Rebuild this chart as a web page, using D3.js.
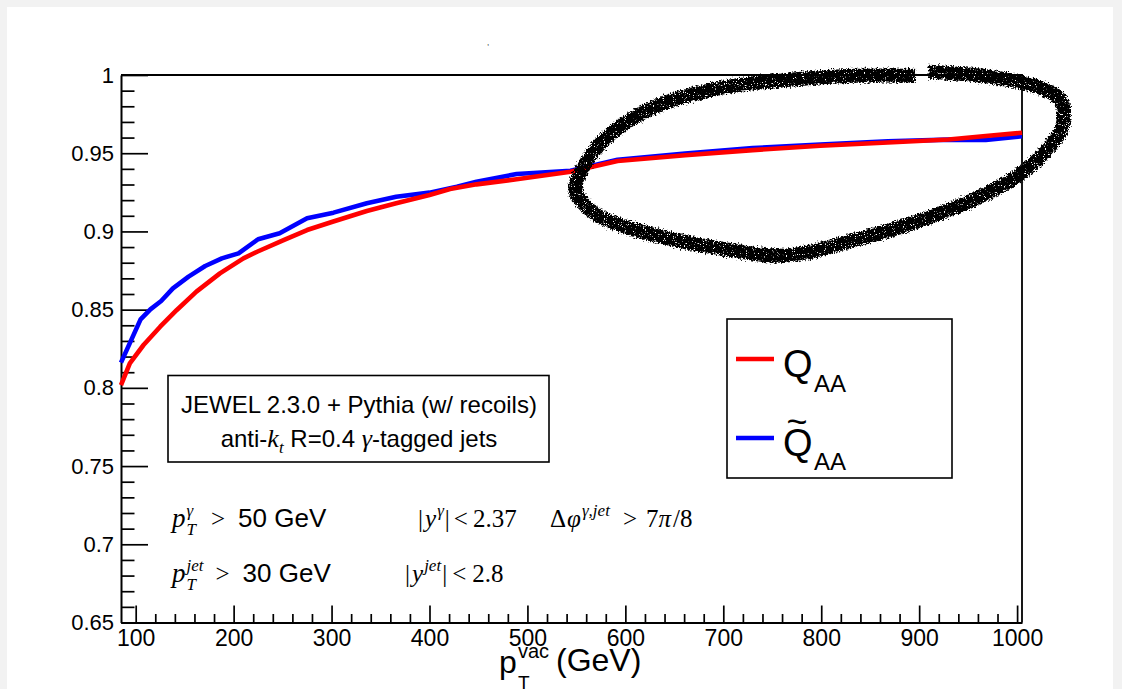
<!DOCTYPE html>
<html>
<head>
<meta charset="utf-8">
<script src="https://cdn.jsdelivr.net/npm/d3@7"></script>
<style>
  body { margin: 0; background: #f2f2f2; }
  svg { display: block; }
  .axis .domain { stroke: #000; stroke-width: 2; }
  .axis .tick line { stroke: #000; stroke-width: 1.7; }
  .axis text { font-family: "Liberation Sans", Arial, sans-serif; fill: #000; }
</style>
</head>
<body>
<svg id="chart" width="1122" height="689"></svg>
<script>
// Q_AA (red) as a function of the vacuum jet pT
var redPt = [85, 94, 108, 125, 142, 162, 186, 210, 224, 251, 275, 301, 336, 366, 400, 421, 448, 489, 544, 592, 661, 730, 799, 868, 930, 968, 1005];
var redQ = [0.8018, 0.8157, 0.8274, 0.8391, 0.8498, 0.8615, 0.8732, 0.8828, 0.8870, 0.8945, 0.9009, 0.9062, 0.9131, 0.9180, 0.9233, 0.9271, 0.9301, 0.9333, 0.9382, 0.9450, 0.9487, 0.9520, 0.9548, 0.9568, 0.9588, 0.9610, 0.9631];

// Q~_AA (blue)
var bluePt = [85, 105, 115, 126, 138, 154, 171, 188, 205, 225, 247, 275, 302, 336, 366, 400, 428, 448, 489, 544, 592, 661, 730, 799, 868, 930, 968, 1005];
var blueQ = [0.8161, 0.8438, 0.8502, 0.8555, 0.8636, 0.8711, 0.8779, 0.8828, 0.8860, 0.8950, 0.8988, 0.9084, 0.9120, 0.9180, 0.9222, 0.9248, 0.9286, 0.9318, 0.9367, 0.9388, 0.9458, 0.9498, 0.9533, 0.9556, 0.9576, 0.9587, 0.9584, 0.9608];

// tick labels
var xTicks = [100, 200, 300, 400, 500, 600, 700, 800, 900, 1000];
var xTickLabels = ["100", "200", "300", "400", "500", "600", "700", "800", "900", "1000"];
var yTicks = [0.65, 0.7, 0.75, 0.8, 0.85, 0.9, 0.95, 1];
var yTickLabels = ["0.65", "0.7", "0.75", "0.8", "0.85", "0.9", "0.95", "1"];

// hand drawn loop around the high pT part (pT, Q)
var loopPt = [909.6, 971.8, 1020.1, 1044.3, 1046.1, 1027.1, 999.4, 954.6, 902.8, 833.8, 764.7, 695.6, 626.6, 574.8, 554.1, 549, 574.8, 626.6, 695.6, 764.7, 833.8, 895.8];
var loopQ = [1.0021, 0.9989, 0.9925, 0.9840, 0.9670, 0.9499, 0.9350, 0.9201, 0.9073, 0.8945, 0.8846, 0.8893, 0.8982, 0.9092, 0.9201, 0.9286, 0.9563, 0.9787, 0.9915, 0.9968, 0.9995, 0.9995];

var SANS = '"Liberation Sans", Arial, Helvetica, sans-serif';
var SERIF = '"Liberation Serif", "Times New Roman", serif';

var svg = d3.select("#chart");

// white pad
svg.append("rect").attr("x", 7).attr("y", 7).attr("width", 1106).attr("height", 682).attr("fill", "#fff");

var x = d3.scaleLinear().domain([85, 1005]).range([121, 1022]);
var y = d3.scaleLinear().domain([0.65, 1]).range([622.5, 75]);

// roughness filter for the marker loop
var defs = svg.append("defs");
var f = defs.append("filter").attr("id", "chalk")
  .attr("x", "-10%").attr("y", "-20%").attr("width", "120%").attr("height", "140%");
f.append("feTurbulence").attr("type", "fractalNoise").attr("baseFrequency", 0.6)
  .attr("numOctaves", 2).attr("seed", 4).attr("result", "noise");
f.append("feDisplacementMap").attr("in", "SourceGraphic").attr("in2", "noise")
  .attr("scale", 7).attr("xChannelSelector", "R").attr("yChannelSelector", "G").attr("result", "disp");
f.append("feTurbulence").attr("type", "fractalNoise").attr("baseFrequency", 0.9)
  .attr("numOctaves", 1).attr("seed", 9).attr("result", "grain");
f.append("feColorMatrix").attr("in", "grain").attr("type", "matrix")
  .attr("values", "0 0 0 0 0  0 0 0 0 0  0 0 0 0 0  0 0 0 -12 8.6").attr("result", "mask");
f.append("feComposite").attr("in", "disp").attr("in2", "mask").attr("operator", "in");

// axes (ticks point inside, ROOT style)
var xMinor = d3.range(100, 1001, 20).filter(function (d) { return d % 100 !== 0; });
var yMinor = d3.range(65, 101).filter(function (d) { return d % 5 !== 0; }).map(function (d) { return d / 100; });

var gx = svg.append("g").attr("class", "axis").attr("transform", "translate(0," + y(0.65) + ")");
gx.call(d3.axisBottom(x).tickValues(xTicks).tickSizeInner(-17).tickSizeOuter(0).tickPadding(7)
  .tickFormat(function (d, i) { return xTickLabels[i]; }));
gx.selectAll("text").style("font-size", "23px");
var gxm = svg.append("g").attr("class", "axis").attr("transform", "translate(0," + y(0.65) + ")");
gxm.call(d3.axisBottom(x).tickValues(xMinor).tickSizeInner(-8.5).tickSizeOuter(0).tickFormat(""));
gxm.select(".domain").remove();

var gy = svg.append("g").attr("class", "axis").attr("transform", "translate(" + x(85) + ",0)");
gy.call(d3.axisLeft(y).tickValues(yTicks).tickSizeInner(-27).tickSizeOuter(0).tickPadding(7)
  .tickFormat(function (d, i) { return yTickLabels[i]; }));
gy.selectAll("text").style("font-size", "22px");
var gym = svg.append("g").attr("class", "axis").attr("transform", "translate(" + x(85) + ",0)");
gym.call(d3.axisLeft(y).tickValues(yMinor).tickSizeInner(-13.5).tickSizeOuter(0).tickFormat(""));
gym.select(".domain").remove();

// frame top + right
svg.append("path")
  .attr("d", "M" + x(85) + "," + y(1) + "H" + x(1005) + "V" + y(0.65))
  .attr("fill", "none").attr("stroke", "#000").attr("stroke-width", 1.8);

// curves
var line = d3.line()
  .x(function (d) { return x(d[0]); })
  .y(function (d) { return y(d[1]); });

function series(pts, vals, color) {
  svg.append("path")
    .datum(pts.map(function (p, i) { return [p, vals[i]]; }))
    .attr("d", line)
    .attr("fill", "none").attr("stroke", color).attr("stroke-width", 4.6)
    .attr("stroke-linejoin", "round");
}
series(bluePt, blueQ, "#0000ff");
series(redPt, redQ, "#ff0000");

// plain text helper
function txt(px, py, s, size, family, italic) {
  return svg.append("text").attr("x", px).attr("y", py).text(s)
    .style("font-size", size + "px").style("font-family", family)
    .style("font-style", italic ? "italic" : "normal");
}

// x axis title
txt(499, 673, "p", 32, SANS);
txt(518, 658, "vac", 20, SANS);
txt(518, 689, "T", 19, SANS);
txt(556, 671, "(GeV)", 32, SANS);

// stray mark of the (empty) title
txt(487, 45, ",", 8, SANS);

// info box
svg.append("rect").attr("x", 168).attr("y", 375.5).attr("width", 381).attr("height", 86.5)
  .attr("fill", "#fff").attr("stroke", "#000").attr("stroke-width", 1.6);
txt(359, 413, "JEWEL 2.3.0 + Pythia (w/ recoils)", 24, SANS).attr("text-anchor", "middle");
var l2 = svg.append("text").attr("x", 359).attr("y", 447).attr("text-anchor", "middle")
  .style("font-size", "24px").style("font-family", SANS);
l2.append("tspan").text("anti-");
l2.append("tspan").text("k").style("font-family", SERIF).style("font-style", "italic").style("font-size", "26px");
l2.append("tspan").text("t").attr("dy", 6).style("font-family", SERIF).style("font-style", "italic").style("font-size", "17px");
l2.append("tspan").text(" R=0.4 ").attr("dy", -6);
l2.append("tspan").text("γ").style("font-family", SERIF).style("font-style", "italic").style("font-size", "26px");
l2.append("tspan").text("-tagged jets");

// legend
svg.append("rect").attr("x", 727).attr("y", 319).attr("width", 225).attr("height", 159)
  .attr("fill", "#fff").attr("stroke", "#000").attr("stroke-width", 1.6);
svg.append("line").attr("x1", 736).attr("x2", 774).attr("y1", 359).attr("y2", 359)
  .attr("stroke", "#ff0000").attr("stroke-width", 4.6);
svg.append("line").attr("x1", 736).attr("x2", 774).attr("y1", 438).attr("y2", 438)
  .attr("stroke", "#0000ff").attr("stroke-width", 4.6);
txt(783, 377, "Q", 38, SANS);
txt(814, 392, "AA", 24, SANS);
txt(797, 434, "~", 36, SANS).attr("text-anchor", "middle");
txt(783, 456, "Q", 38, SANS);
txt(814, 470, "AA", 24, SANS);

// cut labels, pieces placed one after another
function latex(px, py, pieces) {
  var cx = px;
  pieces.forEach(function (p) {
    var size = p.size || 25;
    var fam = p.sans ? SANS : SERIF;
    var t = txt(cx + (p.gap || 0), py, p.t, size, fam, p.it);
    var w = t.node().getComputedTextLength();
    cx += (p.gap || 0) + w;
    if (p.sup || p.sub) {
      var ws = 0;
      if (p.sup) {
        var s1 = txt(cx + 1, py - 11, p.sup, 17, SERIF, true);
        ws = Math.max(ws, s1.node().getComputedTextLength());
      }
      if (p.sub) {
        var s2 = txt(cx + 1, py + 8, p.sub, 17, SERIF, true);
        ws = Math.max(ws, s2.node().getComputedTextLength());
      }
      cx += ws + 1;
    }
  });
}
latex(172, 527, [
  { t: "p", it: true, size: 27, sup: "γ", sub: "T" },
  { t: ">", gap: 15 },
  { t: "50 GeV", sans: true, size: 26, gap: 13 }
]);
latex(418, 527, [
  { t: "|" },
  { t: "y", it: true, gap: 2, sup: "γ" },
  { t: "|", gap: 1 },
  { t: "<", gap: 4 },
  { t: "2.37", gap: 5 }
]);
latex(550, 527, [
  { t: "Δ" },
  { t: "φ", it: true, gap: 1, sup: "γ,jet" },
  { t: ">", gap: 13 },
  { t: "7", gap: 9 },
  { t: "π", it: true },
  { t: "/8", gap: 2 }
]);
latex(172, 582, [
  { t: "p", it: true, size: 27, sup: "jet", sub: "T" },
  { t: ">", gap: 12 },
  { t: "30 GeV", sans: true, size: 26, gap: 13 }
]);
latex(405, 582, [
  { t: "|" },
  { t: "y", it: true, gap: 2, sup: "jet" },
  { t: "|", gap: 1 },
  { t: "<", gap: 5 },
  { t: "2.8", gap: 6 }
]);

// marker loop
var loopLine = d3.line()
  .x(function (d) { return x(d[0]); })
  .y(function (d) { return y(d[1]); })
  .curve(d3.curveCatmullRom);
svg.append("path")
  .datum(loopPt.map(function (p, i) { return [p, loopQ[i]]; }))
  .attr("d", loopLine)
  .attr("fill", "none").attr("stroke", "#000").attr("stroke-width", 14)
  .attr("stroke-linecap", "butt").attr("filter", "url(#chalk)");
</script>
</body>
</html>
